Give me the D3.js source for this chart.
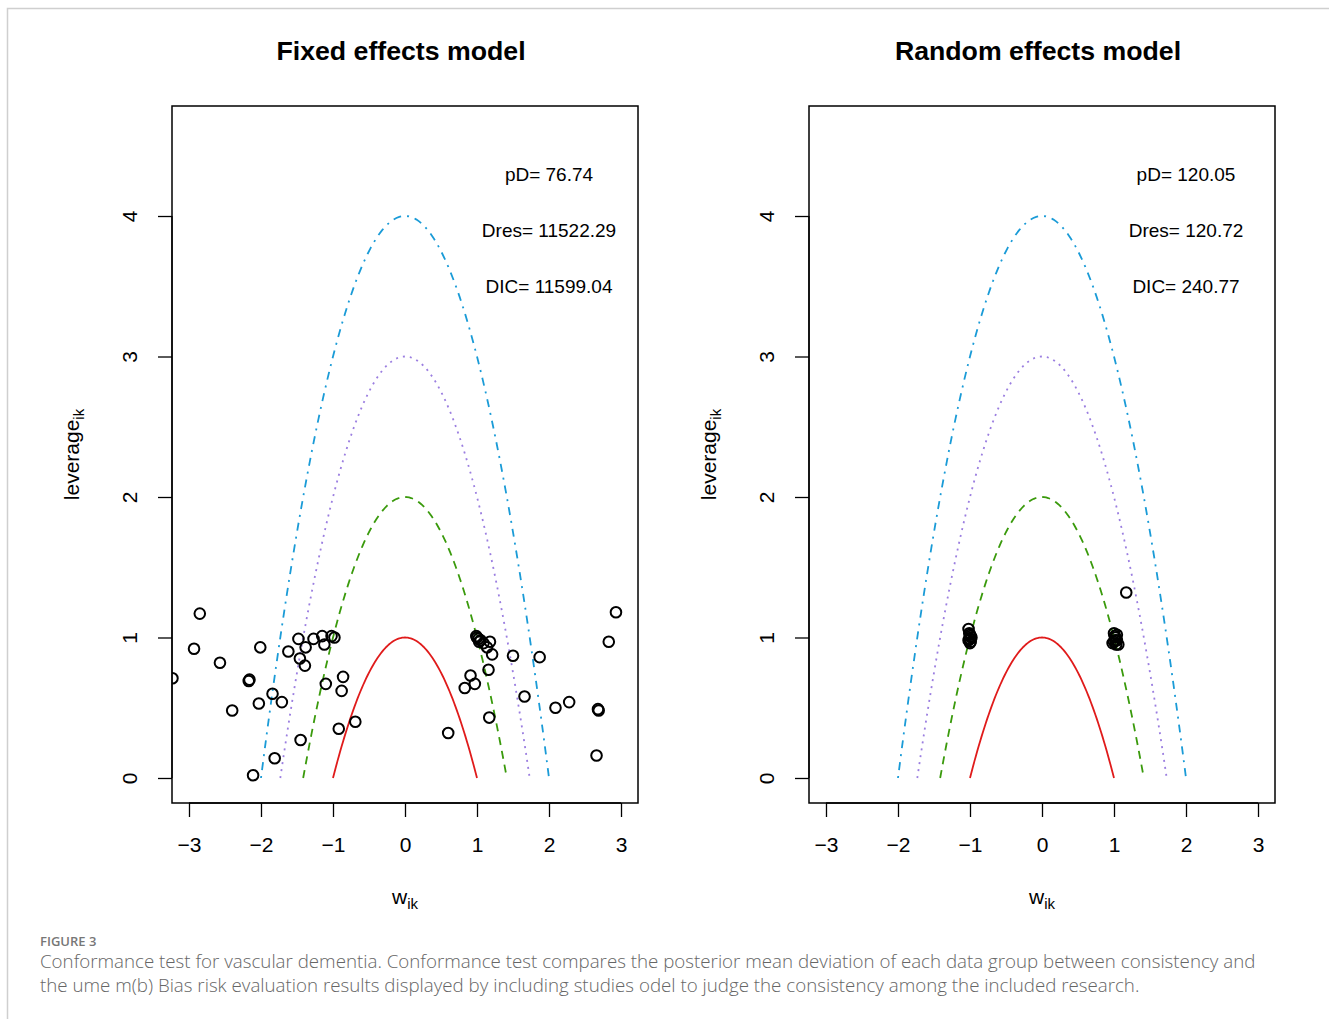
<!DOCTYPE html>
<html>
<head>
<meta charset="utf-8">
<script src="https://cdn.jsdelivr.net/npm/d3@7"></script>
<style>
  body { margin: 0; background: #fff; }
</style>
</head>
<body>
<script>
// panel titles and model fit statistics
var panelTitles = ["Fixed effects model", "Random effects model"];
var statLabels = [
  ["pD= 76.74", "Dres= 11522.29", "DIC= 11599.04"],
  ["pD= 120.05", "Dres= 120.72", "DIC= 240.77"]
];
var statY = [4.3, 3.9, 3.5];

var xTicks = [-3, -2, -1, 0, 1, 2, 3];
var yTicks = [0, 1, 2, 3, 4];

// leverage parabolas  leverage = c - w^2
var curveLevels = [1, 2, 3, 4];
var curveColors = ["#e01b1b", "#3a9a0c", "#9b7ee0", "#1a9bd7"];
var curveDash = [null, "8,6", "2,5", "2,6,8,6"];

// fixed effects points (w_ik, leverage_ik)
var fixedW = [-2.85, -2.93, -2.01, -2.57, -1.48, -1.62, -1.46, -1.39, -2.17, -2.16, -3.23,
  -1.84, -1.71, -2.03, -2.40, -1.45, -1.81, -2.11, -1.27, -1.38, -1.15, -1.12, -1.02, -0.98,
  -0.86, -1.10, -0.88, -0.69, -0.92,
  1.00, 1.02, 0.99, 1.03, 1.05, 1.09, 1.18, 1.14, 1.21, 1.50, 1.87, 1.16, 0.91, 0.97, 0.83,
  1.66, 1.17, 0.60, 2.93, 2.83, 2.09, 2.28, 2.68, 2.69, 2.66];
var fixedLev = [1.17, 0.92, 0.93, 0.82, 0.99, 0.90, 0.85, 0.80, 0.69, 0.70, 0.71,
  0.60, 0.54, 0.53, 0.48, 0.27, 0.14, 0.02, 0.99, 0.93, 1.01, 0.95, 1.01, 1.00,
  0.72, 0.67, 0.62, 0.40, 0.35,
  1.00, 0.99, 1.01, 0.97, 0.98, 0.96, 0.97, 0.93, 0.88, 0.87, 0.86, 0.77, 0.73, 0.67, 0.64,
  0.58, 0.43, 0.32, 1.18, 0.97, 0.50, 0.54, 0.49, 0.48, 0.16];

// random effects points
var randomW = [-1.02, -1.00, -1.01, -0.99, -1.00, -0.98, -1.02, -1.01, -0.99, -1.00,
  1.00, 1.02, 1.04, 0.98, 1.06, 1.03, 1.01, 1.02, 1.00, 1.04, 1.17];
var randomLev = [1.06, 1.02, 0.99, 0.97, 0.96, 1.00, 0.98, 1.03, 1.01, 0.99,
  1.03, 1.00, 0.98, 0.96, 0.95, 0.95, 1.01, 0.98, 0.97, 1.02, 1.32];

var panelW = [fixedW, randomW];
var panelLev = [fixedLev, randomLev];

var font = "Liberation Sans, Arial, sans-serif";
var width = 1329, height = 1019;
var svg = d3.select("body").append("svg")
  .attr("width", width)
  .attr("height", height)
  .style("font-family", font);

svg.append("rect").attr("width", width).attr("height", height).attr("fill", "#fff");

// page frame
svg.append("path")
  .attr("d", "M7.5," + height + "V8.5H" + width)
  .attr("fill", "none")
  .attr("stroke", "#cfcfcf")
  .attr("stroke-width", 1.5);

var boxLeft = [172, 809];
var boxTop = 106, boxW = 466, boxH = 697;

panelTitles.forEach(function(title, p) {
  var g = svg.append("g");

  var x = d3.scaleLinear()
    .domain([-3.236, 3.236])
    .range([boxLeft[p], boxLeft[p] + boxW]);
  var y = d3.scaleLinear()
    .domain([-0.178, 4.783])
    .range([boxTop + boxH, boxTop]);

  // axes
  var xAxis = g.append("g")
    .attr("transform", "translate(0," + (boxTop + boxH) + ")")
    .call(d3.axisBottom(x).tickValues(xTicks).tickSize(14)
      .tickFormat(function(d) { return d < 0 ? "\u2212" + (-d) : d; }));
  xAxis.select(".domain").attr("d", "M" + x(-3) + ",0H" + x(3)).attr("stroke-width", 1.3);
  xAxis.selectAll("line").attr("stroke-width", 1.3);
  xAxis.selectAll("text").attr("font-size", 21).attr("font-family", font)
    .attr("dy", "0.35em").attr("y", 42);

  var yAxis = g.append("g")
    .attr("transform", "translate(" + boxLeft[p] + ",0)")
    .call(d3.axisLeft(y).tickValues(yTicks).tickSize(14).tickFormat(d3.format("d")));
  yAxis.select(".domain").attr("d", "M0," + y(0) + "V" + y(4)).attr("stroke-width", 1.3);
  yAxis.selectAll("line").attr("stroke-width", 1.3);
  yAxis.selectAll("text")
    .attr("font-size", 21).attr("font-family", font)
    .attr("x", null).attr("dy", null)
    .attr("text-anchor", "middle")
    .attr("transform", "translate(-42,0) rotate(-90)")
    .attr("y", 7);

  // plot box
  g.append("rect")
    .attr("x", boxLeft[p]).attr("y", boxTop)
    .attr("width", boxW).attr("height", boxH)
    .attr("fill", "none").attr("stroke", "#000").attr("stroke-width", 1.5);

  // clip for points
  var clipId = "clip" + p;
  g.append("clipPath").attr("id", clipId).append("rect")
    .attr("x", boxLeft[p]).attr("y", boxTop).attr("width", boxW).attr("height", boxH);

  // parabolas
  var line = d3.line().x(function(d) { return x(d[0]); }).y(function(d) { return y(d[1]); });
  curveLevels.forEach(function(c, i) {
    var r = Math.sqrt(c);
    var pts = d3.range(0, 101).map(function(k) {
      var w = -r + 2 * r * k / 100;
      return [w, c - w * w];
    });
    g.append("path")
      .datum(pts)
      .attr("d", line)
      .attr("fill", "none")
      .attr("stroke", curveColors[i])
      .attr("stroke-width", 1.8)
      .attr("stroke-dasharray", curveDash[i]);
  });

  // points
  g.append("g").attr("clip-path", "url(#" + clipId + ")")
    .selectAll("circle")
    .data(d3.range(panelW[p].length))
    .enter().append("circle")
    .attr("cx", function(i) { return x(panelW[p][i]); })
    .attr("cy", function(i) { return y(panelLev[p][i]); })
    .attr("r", 5.3)
    .attr("fill", "none")
    .attr("stroke", "#000")
    .attr("stroke-width", 2);

  // stats
  statLabels[p].forEach(function(s, i) {
    g.append("text")
      .attr("x", x(2)).attr("y", y(statY[i]))
      .attr("dy", "0.35em")
      .attr("text-anchor", "middle")
      .attr("font-size", 19)
      .text(s);
  });

  // title
  g.append("text")
    .attr("x", x(0) - 4).attr("y", 60)
    .attr("text-anchor", "middle")
    .attr("font-size", 26.7)
    .attr("font-weight", "bold")
    .text(title);

  // axis titles
  var xt = g.append("text")
    .attr("x", x(0)).attr("y", 904)
    .attr("text-anchor", "middle")
    .attr("font-size", 21);
  xt.append("tspan").text("w");
  xt.append("tspan").attr("font-size", 15).attr("dy", 5).text("ik");

  var yt = g.append("text")
    .attr("transform", "translate(" + (boxLeft[p] - 93) + "," + (boxTop + boxH / 2) + ") rotate(-90)")
    .attr("text-anchor", "middle")
    .attr("font-size", 21);
  yt.append("tspan").text("leverage");
  yt.append("tspan").attr("font-size", 15).attr("dy", 5).text("ik");
});

// caption
svg.append("text")
  .attr("x", 40).attr("y", 946)
  .style("font-family", "'Open Sans', sans-serif")
  .attr("font-size", 13)
  .attr("font-weight", 600)
  .attr("fill", "#777")
  .text("FIGURE 3");

var captionLines = [
  "Conformance test for vascular dementia. Conformance test compares the posterior mean deviation of each data group between consistency and",
  "the ume m(b) Bias risk evaluation results displayed by including studies odel to judge the consistency among the included research."
];
var caps = svg.selectAll(".cap").data(captionLines).enter().append("text")
  .attr("class", "cap")
  .attr("x", 40)
  .attr("y", function(d, i) { return 968 + i * 24; })
  .style("font-family", "'Open Sans', sans-serif")
  .attr("font-size", 17)
  .attr("font-weight", 300)
  .attr("fill", "#666")
  .text(function(d) { return d; });

// fit caption size to the first line width (1216px)
var w0 = caps.node().getComputedTextLength();
caps.attr("font-size", 17 * 1216 / w0);
</script>
</body>
</html>
